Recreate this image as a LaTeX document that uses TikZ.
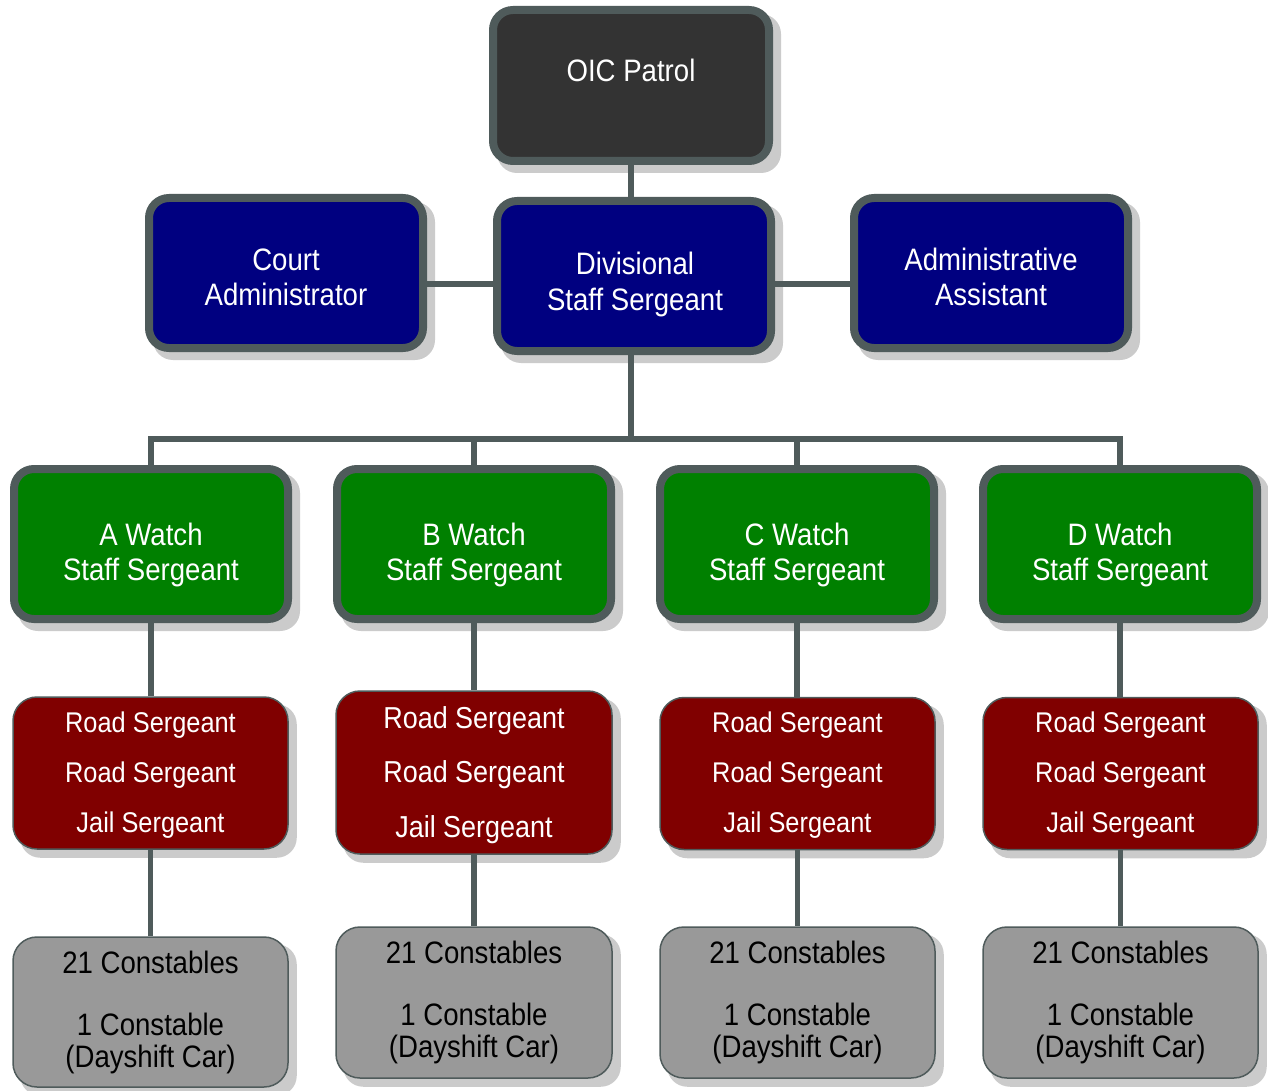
\documentclass[tikz,border=0pt]{standalone}
\usepackage{fontspec}
\setmainfont[FakeStretch=0.89]{Liberation Sans}
\pgfdeclarelayer{shadowlayer}
\pgfdeclarelayer{linelayer}
\pgfsetlayers{shadowlayer,linelayer,main}
\definecolor{edge}{HTML}{4F5B5B}
\definecolor{oicfill}{HTML}{333333}
\definecolor{navyfill}{HTML}{000080}
\definecolor{greenfill}{HTML}{008000}
\definecolor{redfill}{HTML}{800000}
\definecolor{greyfill}{HTML}{999999}
\definecolor{shadowc}{HTML}{CBCBCB}
\tikzset{
  thickbox/.style={draw=edge, line width=8pt, rounded corners=20pt, minimum width=274pt, minimum height=150pt, inner sep=0pt},
  thinbox/.style={draw=edge, line width=1.5pt, rounded corners=24pt, minimum width=275pt, inner sep=0pt},
  txt/.style={anchor=base, inner sep=0pt, text=white, font=\fontsize{31}{36}\selectfont},
  rtxt/.style={txt, font=\fontsize{28.5}{32}\selectfont},
  rbtxt/.style={txt, font=\fontsize{30.3}{34}\selectfont},
  gtxt/.style={txt, text=black},
  conn/.style={draw=edge, line width=5.5pt},
  shade/.style={fill=shadowc, rounded corners=20pt}
}
\newcommand\boxshadow[1]{\fill[shade] ([shift={(8,8)}]#1.south west) rectangle ([shift={(8,8)}]#1.north east);}
\begin{document}
\begin{tikzpicture}[x=1pt,y=-1pt]
\useasboundingbox (0,0) rectangle (1268,1091);
% boxes
\node[thickbox, fill=oicfill, minimum width=276pt, minimum height=151pt] (oic) at (631,85.5) {};
\node[thickbox, fill=navyfill] (court) at (286,273) {};
\node[thickbox, fill=navyfill] (div) at (634,276) {};
\node[thickbox, fill=navyfill] (admin) at (991,273) {};
\node[thickbox, fill=greenfill] (wa) at (151,544) {};
\node[thickbox, fill=greenfill] (wb) at (474,544) {};
\node[thickbox, fill=greenfill] (wc) at (797,544) {};
\node[thickbox, fill=greenfill] (wd) at (1120,544) {};
\node[thinbox, fill=redfill, minimum height=152pt] (ra) at (150.5,773) {};
\node[thinbox, fill=redfill, minimum width=276pt, minimum height=163pt] (rb) at (474,772.5) {};
\node[thinbox, fill=redfill, minimum height=152pt] (rc) at (797.5,773.5) {};
\node[thinbox, fill=redfill, minimum height=152pt] (rd) at (1120.5,773.5) {};
\node[thinbox, fill=greyfill, minimum height=150pt] (ga) at (150.5,1012) {};
\node[thinbox, fill=greyfill, minimum width=276pt, minimum height=151pt] (gb) at (474,1002.5) {};
\node[thinbox, fill=greyfill, minimum height=151pt] (gc) at (797.5,1002.5) {};
\node[thinbox, fill=greyfill, minimum height=151pt] (gd) at (1120.5,1002.5) {};
% texts
\node[txt] (toic) at (631,82) {OIC Patrol};
\node[txt] (tcourt1) at (286,270) {Court};
\node[txt] (tcourt2) at (286,305) {Administrator};
\node[txt] (tdiv1) at (635,274) {Divisional};
\node[txt] (tdiv2) at (635,310) {Staff Sergeant};
\node[txt] (tadm1) at (991,270) {Administrative};
\node[txt] (tadm2) at (991,305) {Assistant};
\foreach \n/\x/\l in {a/151/A, b/474/B, c/797/C, d/1120/D}{
  \node[txt] (tw\n1) at (\x,545) {\l\ Watch};
  \node[txt] (tw\n2) at (\x,580) {Staff Sergeant};
}
\foreach \n/\x in {a/150.5, c/797.5, d/1120.5}{
  \node[rtxt] (tr\n1) at (\x,732) {Road Sergeant};
  \node[rtxt] (tr\n2) at (\x,782) {Road Sergeant};
  \node[rtxt] (tr\n3) at (\x,832) {Jail Sergeant};
}
\node[rbtxt] (trb1) at (474,728) {Road Sergeant};
\node[rbtxt] (trb2) at (474,782) {Road Sergeant};
\node[rbtxt] (trb3) at (474,837) {Jail Sergeant};
\node[gtxt] (tga1) at (150.5,973) {21 Constables};
\node[gtxt] (tga2) at (150.5,1035) {1 Constable};
\node[gtxt] (tga3) at (150.5,1067) {(Dayshift Car)};
\foreach \n/\x in {b/474, c/797.5, d/1120.5}{
  \node[gtxt] (tg\n1) at (\x,963) {21 Constables};
  \node[gtxt] (tg\n2) at (\x,1025) {1 Constable};
  \node[gtxt] (tg\n3) at (\x,1057) {(Dayshift Car)};
}
% shadows
\begin{pgfonlayer}{shadowlayer}
\foreach \b in {oic,court,div,admin,wa,wb,wc,wd,ra,rb,rc,rd,ga,gb,gc,gd}{\boxshadow{\b}}
\end{pgfonlayer}
% connectors
\begin{pgfonlayer}{linelayer}
\coordinate (bus) at (631,439);
\draw[conn] (oic.south) -- (oic.south |- div.north);
\draw[conn] ([yshift=-11pt]court.east) -- ([yshift=-11pt]court.east -| div.west);
\draw[conn] ([yshift=-8pt]div.east) -- ([yshift=-8pt]div.east -| admin.west);
\draw[conn] (bus |- div.south) -- (bus);
\draw[conn] (wa.north) -- (wa.north |- bus) -- (wd.north |- bus) -- (wd.north);
\draw[conn] (wb.north) -- (wb.north |- bus);
\draw[conn] (wc.north) -- (wc.north |- bus);
\foreach \w/\r/\g in {wa/ra/ga, wb/rb/gb, wc/rc/gc, wd/rd/gd}{
  \draw[conn] (\w.south) -- (\w.south |- \r.north);
  \draw[conn] (\r.south) -- (\r.south |- \g.north);
}
\end{pgfonlayer}
\end{tikzpicture}
\end{document}
